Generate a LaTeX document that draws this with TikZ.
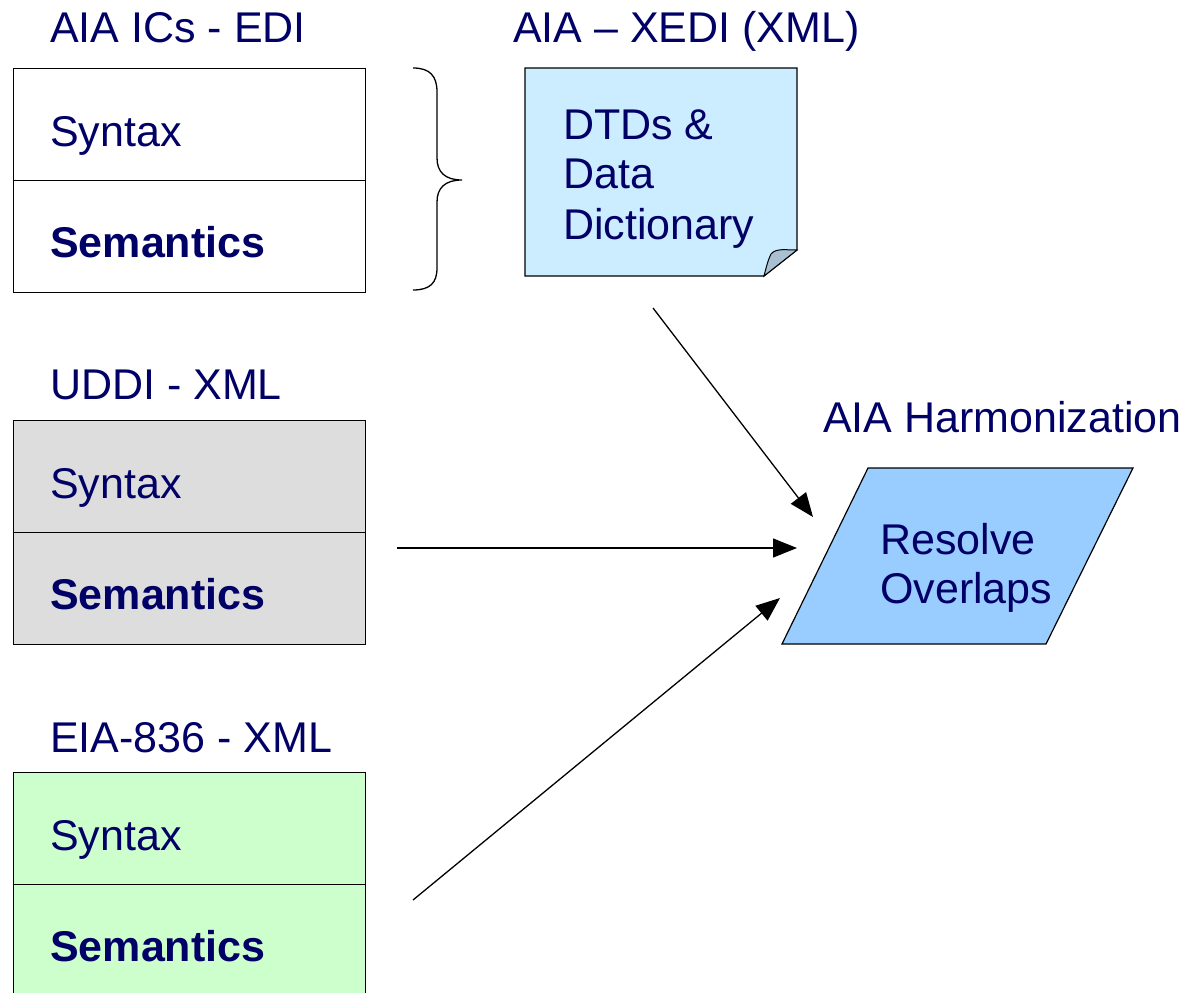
\documentclass[tikz,border=0pt]{standalone}
\usepackage{fontspec}
\setmainfont{Liberation Sans}
\usetikzlibrary{arrows.meta}
\definecolor{navy}{HTML}{000066}
\definecolor{grayfill}{HTML}{DDDDDD}
\definecolor{greenfill}{HTML}{CCFFCC}
\definecolor{notefill}{HTML}{CCECFF}
\definecolor{foldfill}{HTML}{A9BFD2}
\definecolor{parafill}{HTML}{99CCFF}
\begin{document}
\begin{tikzpicture}[x=1pt,y=-1pt,
 txt/.style={font=\fontsize{43}{50}\selectfont, text=navy, inner sep=0pt, anchor=base west},
 btxt/.style={txt, font=\fontsize{43}{50}\selectfont\bfseries},
 cell/.style={draw=black, line width=1.2pt, minimum width=352pt, minimum height=112pt, inner sep=0pt, anchor=north west},
 conn/.style={line width=1.3pt, -{Triangle[length=24pt,width=19pt]}},
 edge/.style={draw=black, line width=1.2pt}]
\useasboundingbox (0,0) rectangle (1184,993);

% left boxes
\node[cell, fill=white] (b1s) at (13,68) {};
\node[cell, fill=white] (b1m) at (13,180) {};
\node[cell, fill=grayfill] (b2s) at (13,420) {};
\node[cell, fill=grayfill] (b2m) at (13,532) {};
\node[cell, fill=greenfill] (b3s) at (13,772) {};
\node[cell, fill=greenfill] (b3m) at (13,884) {};

\node[txt] (t1) at (50,42) {AIA ICs - EDI};
\node[txt] (t2) at (50,399) {UDDI - XML};
\node[txt] (t3) at (50,752) {EIA-836 - XML};

\node[txt] (s1) at (50,146) {Syntax};
\node[btxt] (m1) at (50,257) {Semantics};
\node[txt] (s2) at (50,498) {Syntax};
\node[btxt] (m2) at (50,609) {Semantics};
\node[txt] (s3) at (50,850) {Syntax};
\node[btxt] (m3) at (50,961) {Semantics};

% brace
\draw[line width=1.3pt] (413,68) .. controls (430,68) and (437,76) .. (437,92) -- (437,158)
  .. controls (437,172) and (445,180) .. (462,180)
  .. controls (445,180) and (437,188) .. (437,202) -- (437,268)
  .. controls (437,283) and (430,290) .. (413,290);

% note
\node[txt] (t4) at (513,42) {AIA – XEDI (XML)};
\path[edge, fill=notefill] (525,68) -- (797,68) -- (797,250) -- (764,276) -- (525,276) -- cycle;
\path[edge, fill=foldfill, line width=1pt] (797,250) .. controls (785,250) and (776,248) .. (771,254)
  .. controls (768,260) and (766,268) .. (764,276) -- cycle;
\node[txt] (n1) at (563,139) {DTDs \&};
\node[txt] (n2) at (563,188) {Data};
\node[txt] (n3) at (563,239) {Dictionary};

% harmonization
\node[txt] (t5) at (823,432) {AIA Harmonization};
\path[edge, fill=parafill] (868,468) -- (1133,468) -- (1046,644) -- (782,644) -- cycle;
\node[txt] (r1) at (880,554) {Resolve};
\node[txt] (r2) at (880,603) {Overlaps};

% connectors
\coordinate (a1s) at (653,308);
\coordinate (a1e) at (813,517);
\coordinate (a2s) at (397,548);
\coordinate (a2e) at (797,548);
\coordinate (a3s) at (413,900);
\coordinate (a3e) at (780,598);
\draw[conn] (a1s) -- (a1e);
\draw[conn] (a2s) -- (a2e);
\draw[conn] (a3s) -- (a3e);
\end{tikzpicture}
\end{document}
